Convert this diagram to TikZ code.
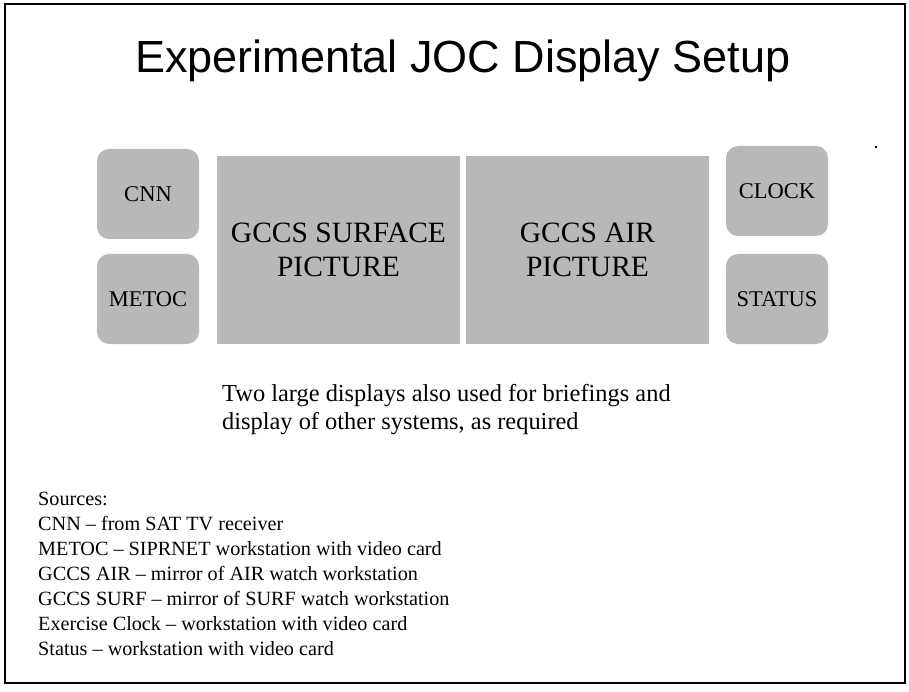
\documentclass[tikz,border=0pt]{standalone}
\usepackage{fontspec}
\setmainfont{Liberation Serif}
\newfontfamily\headfont{Liberation Sans}
\definecolor{scan}{RGB}{184,184,184}
\begin{document}
\begin{tikzpicture}[x=1pt,y=-1pt,
  panel/.style={fill=scan, draw=none, inner sep=0pt, align=center},
  sidepanel/.style={panel, rounded corners=12pt, minimum width=102pt, minimum height=90pt,
    font=\fontsize{22.5}{24}\selectfont},
  bigpanel/.style={panel, minimum width=243pt, minimum height=188pt,
    font=\fontsize{29.5}{34}\selectfont},
  bodytext/.style={anchor=base west, inner sep=0pt},
  captext/.style={bodytext, font=\fontsize{24.4}{28}\selectfont},
  srctext/.style={bodytext, font=\fontsize{20.2}{25}\selectfont}]
\useasboundingbox (0,0) rectangle (909,692);

% outer frame, heavier along the bottom and right
\draw[line width=1.2pt] (5,4) rectangle (905,683);
\draw[line width=2.4pt] (5,683) -- (905,683);
\draw[line width=1.8pt] (905,4) -- (905,683);

% heading
\node[anchor=base, inner sep=0pt, font=\headfont\fontsize{45}{50}\selectfont]
  (title) at (463,73) {Experimental JOC Display Setup};

% display wall
\node[sidepanel] (cnn)    at (148,194) {CNN};
\node[sidepanel] (metoc)  at (148,299) {METOC};
\node[bigpanel]  (surf)   at (338.5,250) {GCCS SURFACE\\PICTURE};
\node[bigpanel]  (air)    at (587.5,250) {GCCS AIR\\PICTURE};
\node[sidepanel] (clock)  at (777,191) {CLOCK};
\node[sidepanel] (status) at (777,299) {STATUS};

% small mark to the right of the wall
\fill (875,146) rectangle (877,148);

% caption under the large displays
\node[captext] (cap1) at (222,401) {Two large displays also used for briefings and};
\node[captext] (cap2) at (222,429) {display of other systems, as required};

% list of sources
\node[srctext] (src0) at (38,505) {Sources:};
\node[srctext] (src1) at (38,530) {CNN -- from SAT TV receiver};
\node[srctext] (src2) at (38,555) {METOC -- SIPRNET workstation with video card};
\node[srctext] (src3) at (38,580) {GCCS AIR -- mirror of AIR watch workstation};
\node[srctext] (src4) at (38,605) {GCCS SURF -- mirror of SURF watch workstation};
\node[srctext] (src5) at (38,630) {Exercise Clock -- workstation with video card};
\node[srctext] (src6) at (38,655) {Status -- workstation with video card};
\end{tikzpicture}
\end{document}
